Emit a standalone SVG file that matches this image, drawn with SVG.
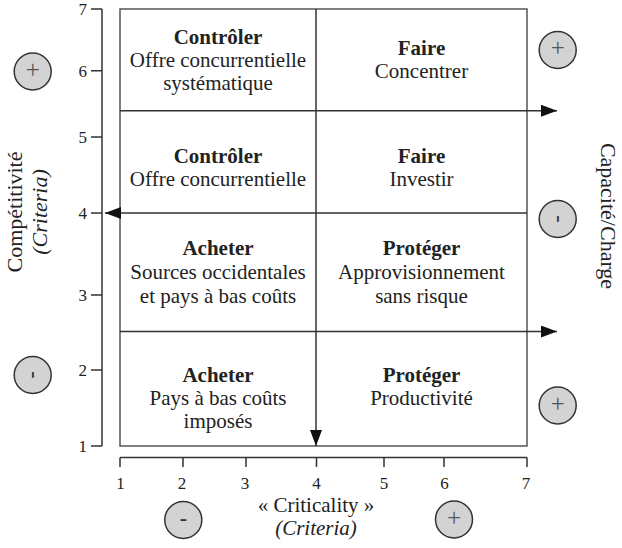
<svg xmlns="http://www.w3.org/2000/svg" width="622" height="548" viewBox="0 0 622 548">
<defs>
<style>
text{font-family:"Liberation Serif","Times New Roman",serif;fill:#222}
.c{font-size:21px;text-anchor:middle}
.t{font-size:22px;text-anchor:middle}
.b{font-weight:bold}
.i{font-style:italic}
.tk{font-size:17px}
.ax{stroke:#333;stroke-width:1.5;fill:none}
.box{stroke:#555;stroke-width:1.5;fill:none}
.arr{stroke:#333;stroke-width:1.5;fill:none}
.circ{fill:#d3d3d3;stroke:#333;stroke-width:1.5}
.sym{font-size:25px;text-anchor:middle;fill:#555}
.sym2{font-size:22px;text-anchor:middle;fill:#333;font-weight:bold}
</style>
<marker id="ah" markerUnits="userSpaceOnUse" markerWidth="16" markerHeight="12" refX="16" refY="6" orient="auto">
<path d="M0,0 L16,6 L0,12 Z" fill="#111"/>
</marker>
</defs>
<rect width="622" height="548" fill="#fff"/>

<g id="y-axis">
<path class="ax" d="M102,9 V446 M91,9 H102 M91,70.7 H102 M91,137 H102 M91,213 H102 M91,295 H102 M91,370 H102 M91,446 H102"/>
<g class="tk" text-anchor="end">
<text x="87" y="15">7</text>
<text x="87" y="76.5">6</text>
<text x="87" y="143">5</text>
<text x="87" y="219">4</text>
<text x="87" y="301">3</text>
<text x="87" y="376">2</text>
<text x="87" y="452">1</text>
</g>
</g>

<g id="x-axis">
<path class="ax" d="M120,457.5 H527 M120,457.5 V467 M183,457.5 V467 M246,457.5 V467 M316.5,457.5 V467 M384,457.5 V467 M444,457.5 V467 M527,457.5 V467"/>
<g class="tk" text-anchor="middle">
<text x="120.5" y="489">1</text>
<text x="182" y="489">2</text>
<text x="245" y="489">3</text>
<text x="316.5" y="489">4</text>
<text x="384" y="489">5</text>
<text x="444.5" y="489">6</text>
<text x="526" y="489">7</text>
</g>
</g>

<rect id="matrix" class="box" x="120" y="9" width="407" height="437"/>

<g id="cell-controler-1">
<text class="c b" x="218" y="44">Contrôler</text>
<text class="c" x="218" y="67">Offre concurrentielle</text>
<text class="c" x="218" y="90">systématique</text>
</g>
<g id="cell-faire-1">
<text class="c b" x="421.5" y="55">Faire</text>
<text class="c" x="421.5" y="78">Concentrer</text>
</g>
<g id="cell-controler-2">
<text class="c b" x="218" y="163">Contrôler</text>
<text class="c" x="218" y="186">Offre concurrentielle</text>
</g>
<g id="cell-faire-2">
<text class="c b" x="421.5" y="163">Faire</text>
<text class="c" x="421.5" y="186">Investir</text>
</g>
<g id="cell-acheter-1">
<text class="c b" x="218" y="255">Acheter</text>
<text class="c" x="218" y="279">Sources occidentales</text>
<text class="c" x="218" y="303">et pays à bas coûts</text>
</g>
<g id="cell-proteger-1">
<text class="c b" x="421.5" y="255">Protéger</text>
<text class="c" x="421.5" y="279">Approvisionnement</text>
<text class="c" x="421.5" y="303">sans risque</text>
</g>
<g id="cell-acheter-2">
<text class="c b" x="218" y="382">Acheter</text>
<text class="c" x="218" y="405">Pays à bas coûts</text>
<text class="c" x="218" y="428">imposés</text>
</g>
<g id="cell-proteger-2">
<text class="c b" x="421.5" y="382">Protéger</text>
<text class="c" x="421.5" y="405">Productivité</text>
</g>

<g id="connectors">
<line class="arr" x1="120" y1="110.7" x2="557" y2="110.7" marker-end="url(#ah)"/>
<line class="arr" x1="120" y1="331.5" x2="557" y2="331.5" marker-end="url(#ah)"/>
<line class="arr" x1="527" y1="213" x2="105" y2="213" marker-end="url(#ah)"/>
<line class="arr" x1="316" y1="9" x2="316" y2="446" marker-end="url(#ah)"/>
</g>

<g id="label-competitivite">
<text class="t" transform="translate(22,212) rotate(-90)">Compétitivité</text>
<text class="t i" transform="translate(47,212) rotate(-90)">(Criteria)</text>
</g>
<g id="label-capacite">
<text class="t" transform="translate(601,216) rotate(90)">Capacité/Charge</text>
</g>
<g id="label-criticality">
<text class="c" x="316" y="512">« Criticality »</text>
<text class="c i" x="316" y="535">(Criteria)</text>
</g>

<g id="circle-left-plus">
<circle class="circ" cx="32.7" cy="71.5" r="18.5"/>
<text class="sym" x="32.7" y="77.8">+</text>
</g>
<g id="circle-left-minus">
<circle class="circ" cx="32.7" cy="375" r="18.5"/>
<text class="sym2" transform="translate(32.7,375) rotate(90)" x="0" y="4.5">-</text>
</g>
<g id="circle-right-plus-top">
<circle class="circ" cx="557.7" cy="50" r="18.5"/>
<text class="sym" x="557.7" y="56.3">+</text>
</g>
<g id="circle-right-minus">
<circle class="circ" cx="557.7" cy="219" r="18.5"/>
<text class="sym2" transform="translate(557.7,219) rotate(90)" x="0" y="4.5">-</text>
</g>
<g id="circle-right-plus-bottom">
<circle class="circ" cx="557.7" cy="405.5" r="18.5"/>
<text class="sym" x="557.7" y="411.8">+</text>
</g>
<g id="circle-bottom-minus">
<circle class="circ" cx="183.3" cy="520" r="18.5"/>
<text class="sym2" x="183.3" y="524.5">-</text>
</g>
<g id="circle-bottom-plus">
<circle class="circ" cx="454" cy="519.5" r="18.5"/>
<text class="sym" x="454" y="525.8">+</text>
</g>
</svg>
